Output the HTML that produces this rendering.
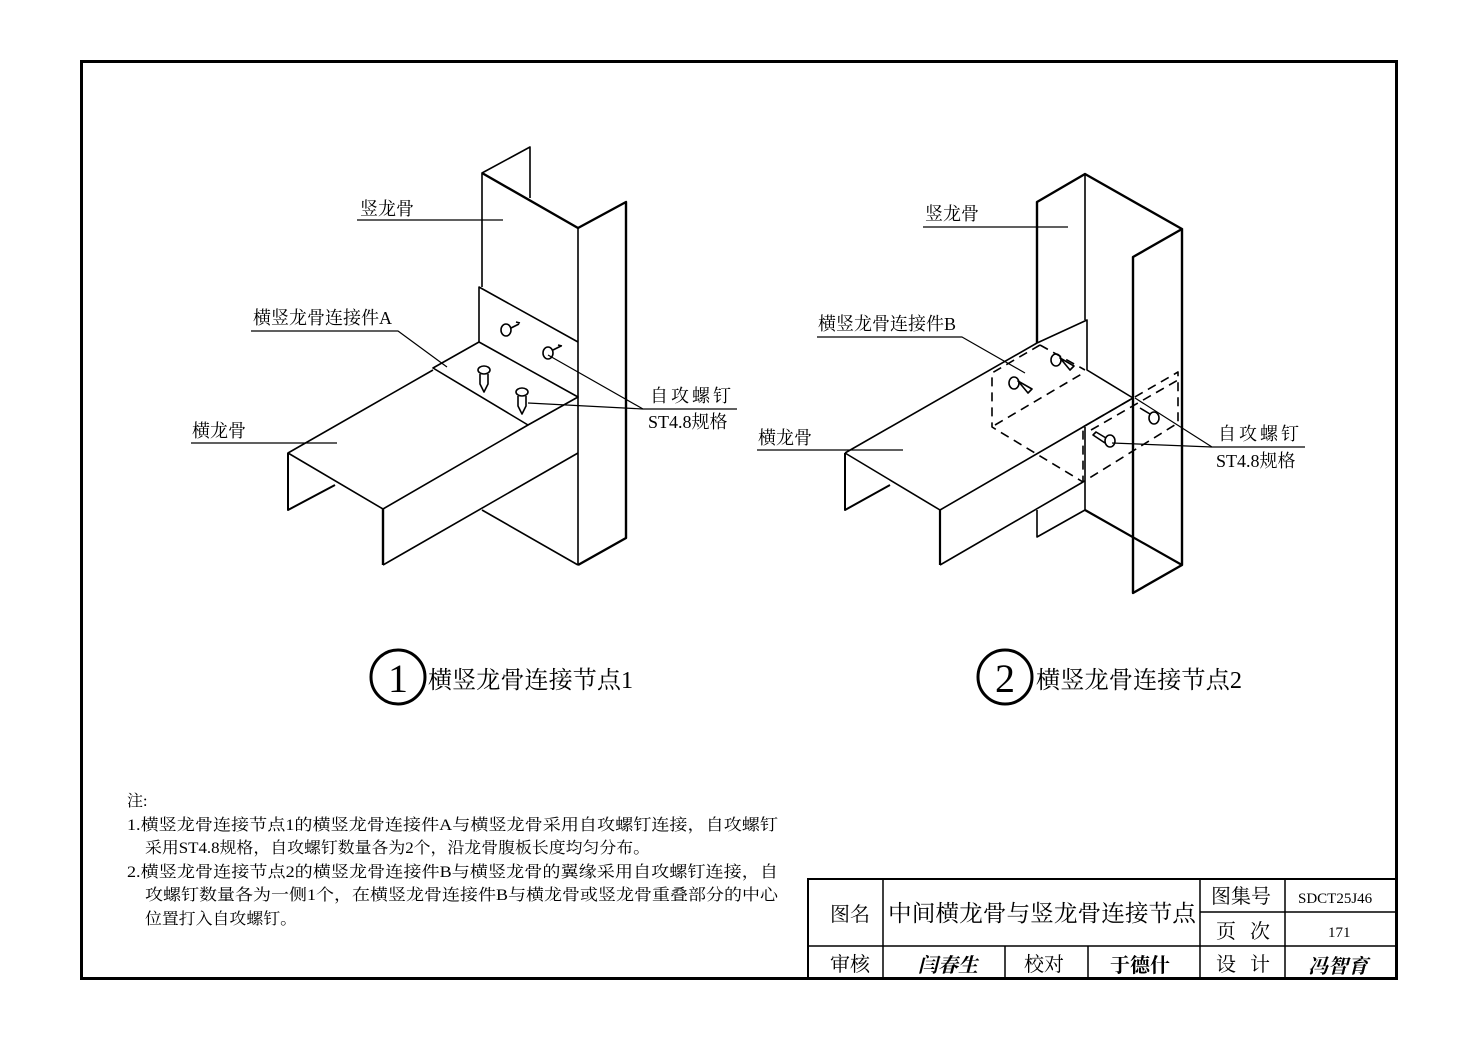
<!DOCTYPE html>
<html><head><meta charset="utf-8"><style>
body{margin:0;background:#fff}
svg{display:block}
text{font-family:"Liberation Serif","Noto Serif CJK SC","Noto Sans CJK SC",serif;fill:#000}
</style></head><body>
<svg width="1477" height="1039" viewBox="0 0 1477 1039" xmlns="http://www.w3.org/2000/svg">
<rect x="0" y="0" width="1477" height="1039" fill="#fff"/>
<rect x="81.5" y="61.5" width="1315" height="917" fill="none" stroke="#000" stroke-width="3"/>

<!-- Drawing 1 -->
<g fill="none" stroke="#000" stroke-width="1.6" stroke-linejoin="round">
 <!-- vertical stud -->
 <polyline points="482,287 482,173 530,147 530,198" />
 <polyline points="482,173 578,228 626,202 626,538 578,565" stroke-width="2.4"/>
 <line x1="578" y1="228" x2="578" y2="565"/>
 <line x1="482" y1="510" x2="578" y2="565"/>
 <!-- connector A -->
 <polyline points="479,342 479,287 578,342"/>
 <polyline points="479,342 433,368 528,425 578,397 479,342"/>
 <!-- horizontal stud -->
 <polyline points="433,370 288,453 383,509 528,425"/>
 <line x1="383" y1="509" x2="383" y2="565" stroke-width="2.4"/>
 <line x1="383" y1="565" x2="578" y2="453"/>
 <polyline points="288,453 288,510 335,485" stroke-width="2"/>
 <!-- screws -->
 <ellipse cx="506" cy="330" rx="5" ry="6"/><path d="M511,328 l8,-4 M516,322 l4,1"/>
 <ellipse cx="548" cy="353" rx="5" ry="6"/><path d="M553,350 l8,-4 M558,345 l4,1"/>
 <ellipse cx="484" cy="370" rx="6" ry="4"/><path d="M480,374 l0,10 l4,8 l4,-8 l0,-10"/>
 <ellipse cx="522" cy="392" rx="6" ry="4"/><path d="M518,396 l0,10 l4,8 l4,-8 l0,-10"/>
 <!-- leaders -->
 <polyline points="357,220 503,220" stroke-width="1.2"/>
 <polyline points="251,331 398,331 447,367" stroke-width="1.2"/>
 <polyline points="191,443 337,443" stroke-width="1.2"/>
 <polyline points="548,355 643,409 737,409" stroke-width="1.2"/>
 <line x1="528" y1="403" x2="643" y2="409" stroke-width="1.2"/>
</g>
<text x="360" y="215" font-size="18">竖龙骨</text>
<text x="253" y="324" font-size="18">横竖龙骨连接件A</text>
<text x="192" y="437" font-size="18">横龙骨</text>
<text x="650" y="402" font-size="18" letter-spacing="3">自攻螺钉</text>
<text x="648" y="428" font-size="18">ST4.8规格</text>

<!-- Drawing 2 -->
<g fill="none" stroke="#000" stroke-width="1.6" stroke-linejoin="round">
 <polyline points="1037,343 1037,202 1085,174 1182,229 1133,257 1133,593 1182,565 1182,229" stroke-width="2.4"/>
 <line x1="1085" y1="174" x2="1085" y2="320"/>
 <line x1="1085" y1="510" x2="1182" y2="565" stroke-width="2.2"/>
 <polyline points="1037,510 1037,537 1085,510 1085,427"/>
 <!-- horizontal stud -->
 <polyline points="845,453 1037,343 1087,320 1087,370 1133,398"/>
 <polyline points="845,453 940,510 1083,427 1133,398"/>
 <line x1="940" y1="510" x2="940" y2="565" stroke-width="2.2"/>
 <line x1="940" y1="565" x2="1083" y2="482"/>
 <polyline points="845,453 845,510 890,485" stroke-width="2"/>
 <!-- dashed connector B -->
 <g stroke-dasharray="9,6">
  <polyline points="1040,345 992,373 992,427 1083,482"/>
  <line x1="1040" y1="345" x2="1085" y2="370"/>
  <line x1="995" y1="425" x2="1085" y2="372"/>
  <polyline points="1083,427 1178,372 1178,423 1083,482 1083,427"/>
  <line x1="1091" y1="430" x2="1178" y2="380"/>
 </g>
 <!-- screws -->
 <ellipse cx="1014" cy="383" rx="5" ry="6"/><path d="M1018,381 l14,8 l-4,4 z"/>
 <ellipse cx="1056" cy="360" rx="5" ry="6"/><path d="M1060,358 l14,8 l-4,4 z"/>
 <ellipse cx="1154" cy="418" rx="5" ry="6"/><path d="M1150,414 l-10,-6"/>
 <ellipse cx="1110" cy="441" rx="5" ry="6"/><path d="M1106,438 l-10,-6 l-3,3 l12,8"/>
 <!-- leaders -->
 <polyline points="923,227 1068,227" stroke-width="1.2"/>
 <polyline points="817,337 962,337 1025,373" stroke-width="1.2"/>
 <polyline points="757,450 903,450" stroke-width="1.2"/>
 <polyline points="1135,398 1212,447 1305,447" stroke-width="1.2"/>
 <line x1="1112" y1="443" x2="1212" y2="447" stroke-width="1.2"/>
</g>
<text x="925" y="220" font-size="18">竖龙骨</text>
<text x="818" y="330" font-size="18">横竖龙骨连接件B</text>
<text x="758" y="444" font-size="18">横龙骨</text>
<text x="1218" y="440" font-size="18" letter-spacing="3">自攻螺钉</text>
<text x="1216" y="467" font-size="18">ST4.8规格</text>

<!-- Captions -->
<circle cx="398" cy="677" r="27" fill="none" stroke="#000" stroke-width="3"/>
<text x="398" y="692" font-size="40" text-anchor="middle">1</text>
<text x="428" y="688" font-size="24" textLength="205" lengthAdjust="spacingAndGlyphs">横竖龙骨连接节点1</text>
<circle cx="1005" cy="677" r="27" fill="none" stroke="#000" stroke-width="3"/>
<text x="1005" y="692" font-size="40" text-anchor="middle">2</text>
<text x="1036" y="688" font-size="24" textLength="206" lengthAdjust="spacingAndGlyphs">横竖龙骨连接节点2</text>

<!-- Notes -->
<g font-size="16">
<text x="127" y="806">注:</text>
<text x="127" y="830" textLength="651" lengthAdjust="spacingAndGlyphs">1.横竖龙骨连接节点1的横竖龙骨连接件A与横竖龙骨采用自攻螺钉连接，自攻螺钉</text>
<text x="145" y="853" textLength="505" lengthAdjust="spacingAndGlyphs">采用ST4.8规格，自攻螺钉数量各为2个，沿龙骨腹板长度均匀分布。</text>
<text x="127" y="877" textLength="651" lengthAdjust="spacingAndGlyphs">2.横竖龙骨连接节点2的横竖龙骨连接件B与横竖龙骨的翼缘采用自攻螺钉连接，自</text>
<text x="145" y="900" textLength="633" lengthAdjust="spacingAndGlyphs">攻螺钉数量各为一侧1个，在横竖龙骨连接件B与横龙骨或竖龙骨重叠部分的中心</text>
<text x="145" y="924" textLength="152" lengthAdjust="spacingAndGlyphs">位置打入自攻螺钉。</text>
</g>

<!-- Title block -->
<g fill="none" stroke="#000">
 <rect x="808" y="879" width="589" height="100" stroke-width="2"/>
 <line x1="808" y1="946" x2="1397" y2="946" stroke-width="1.5"/>
 <line x1="1200" y1="912" x2="1397" y2="912" stroke-width="1.5"/>
 <line x1="883" y1="879" x2="883" y2="979" stroke-width="1.5"/>
 <line x1="1200" y1="879" x2="1200" y2="979" stroke-width="1.5"/>
 <line x1="1285" y1="879" x2="1285" y2="979" stroke-width="1.5"/>
 <line x1="1005" y1="946" x2="1005" y2="979" stroke-width="1.5"/>
 <line x1="1088" y1="946" x2="1088" y2="979" stroke-width="1.5"/>
</g>
<g font-size="20">
<text x="830" y="921">图名</text>
<text x="888" y="921" font-size="23" textLength="308" lengthAdjust="spacingAndGlyphs">中间横龙骨与竖龙骨连接节点</text>
<text x="1211" y="903">图集号</text>
<text x="1216" y="938" letter-spacing="14">页次</text>
<text x="1298" y="903" font-size="15">SDCT25J46</text>
<text x="1328" y="937" font-size="15">171</text>
<text x="830" y="971">审核</text>
<text x="1024" y="971">校对</text>
<text x="1216" y="971" letter-spacing="14">设计</text>
<text x="918" y="972" font-size="20" font-style="italic" font-weight="bold">闫春生</text>
<text x="1110" y="972" font-size="20" font-weight="bold">于德什</text>
<text x="1308" y="973" font-size="20" font-style="italic" font-weight="bold">冯智育</text>
</g>
</svg>
</body></html>
